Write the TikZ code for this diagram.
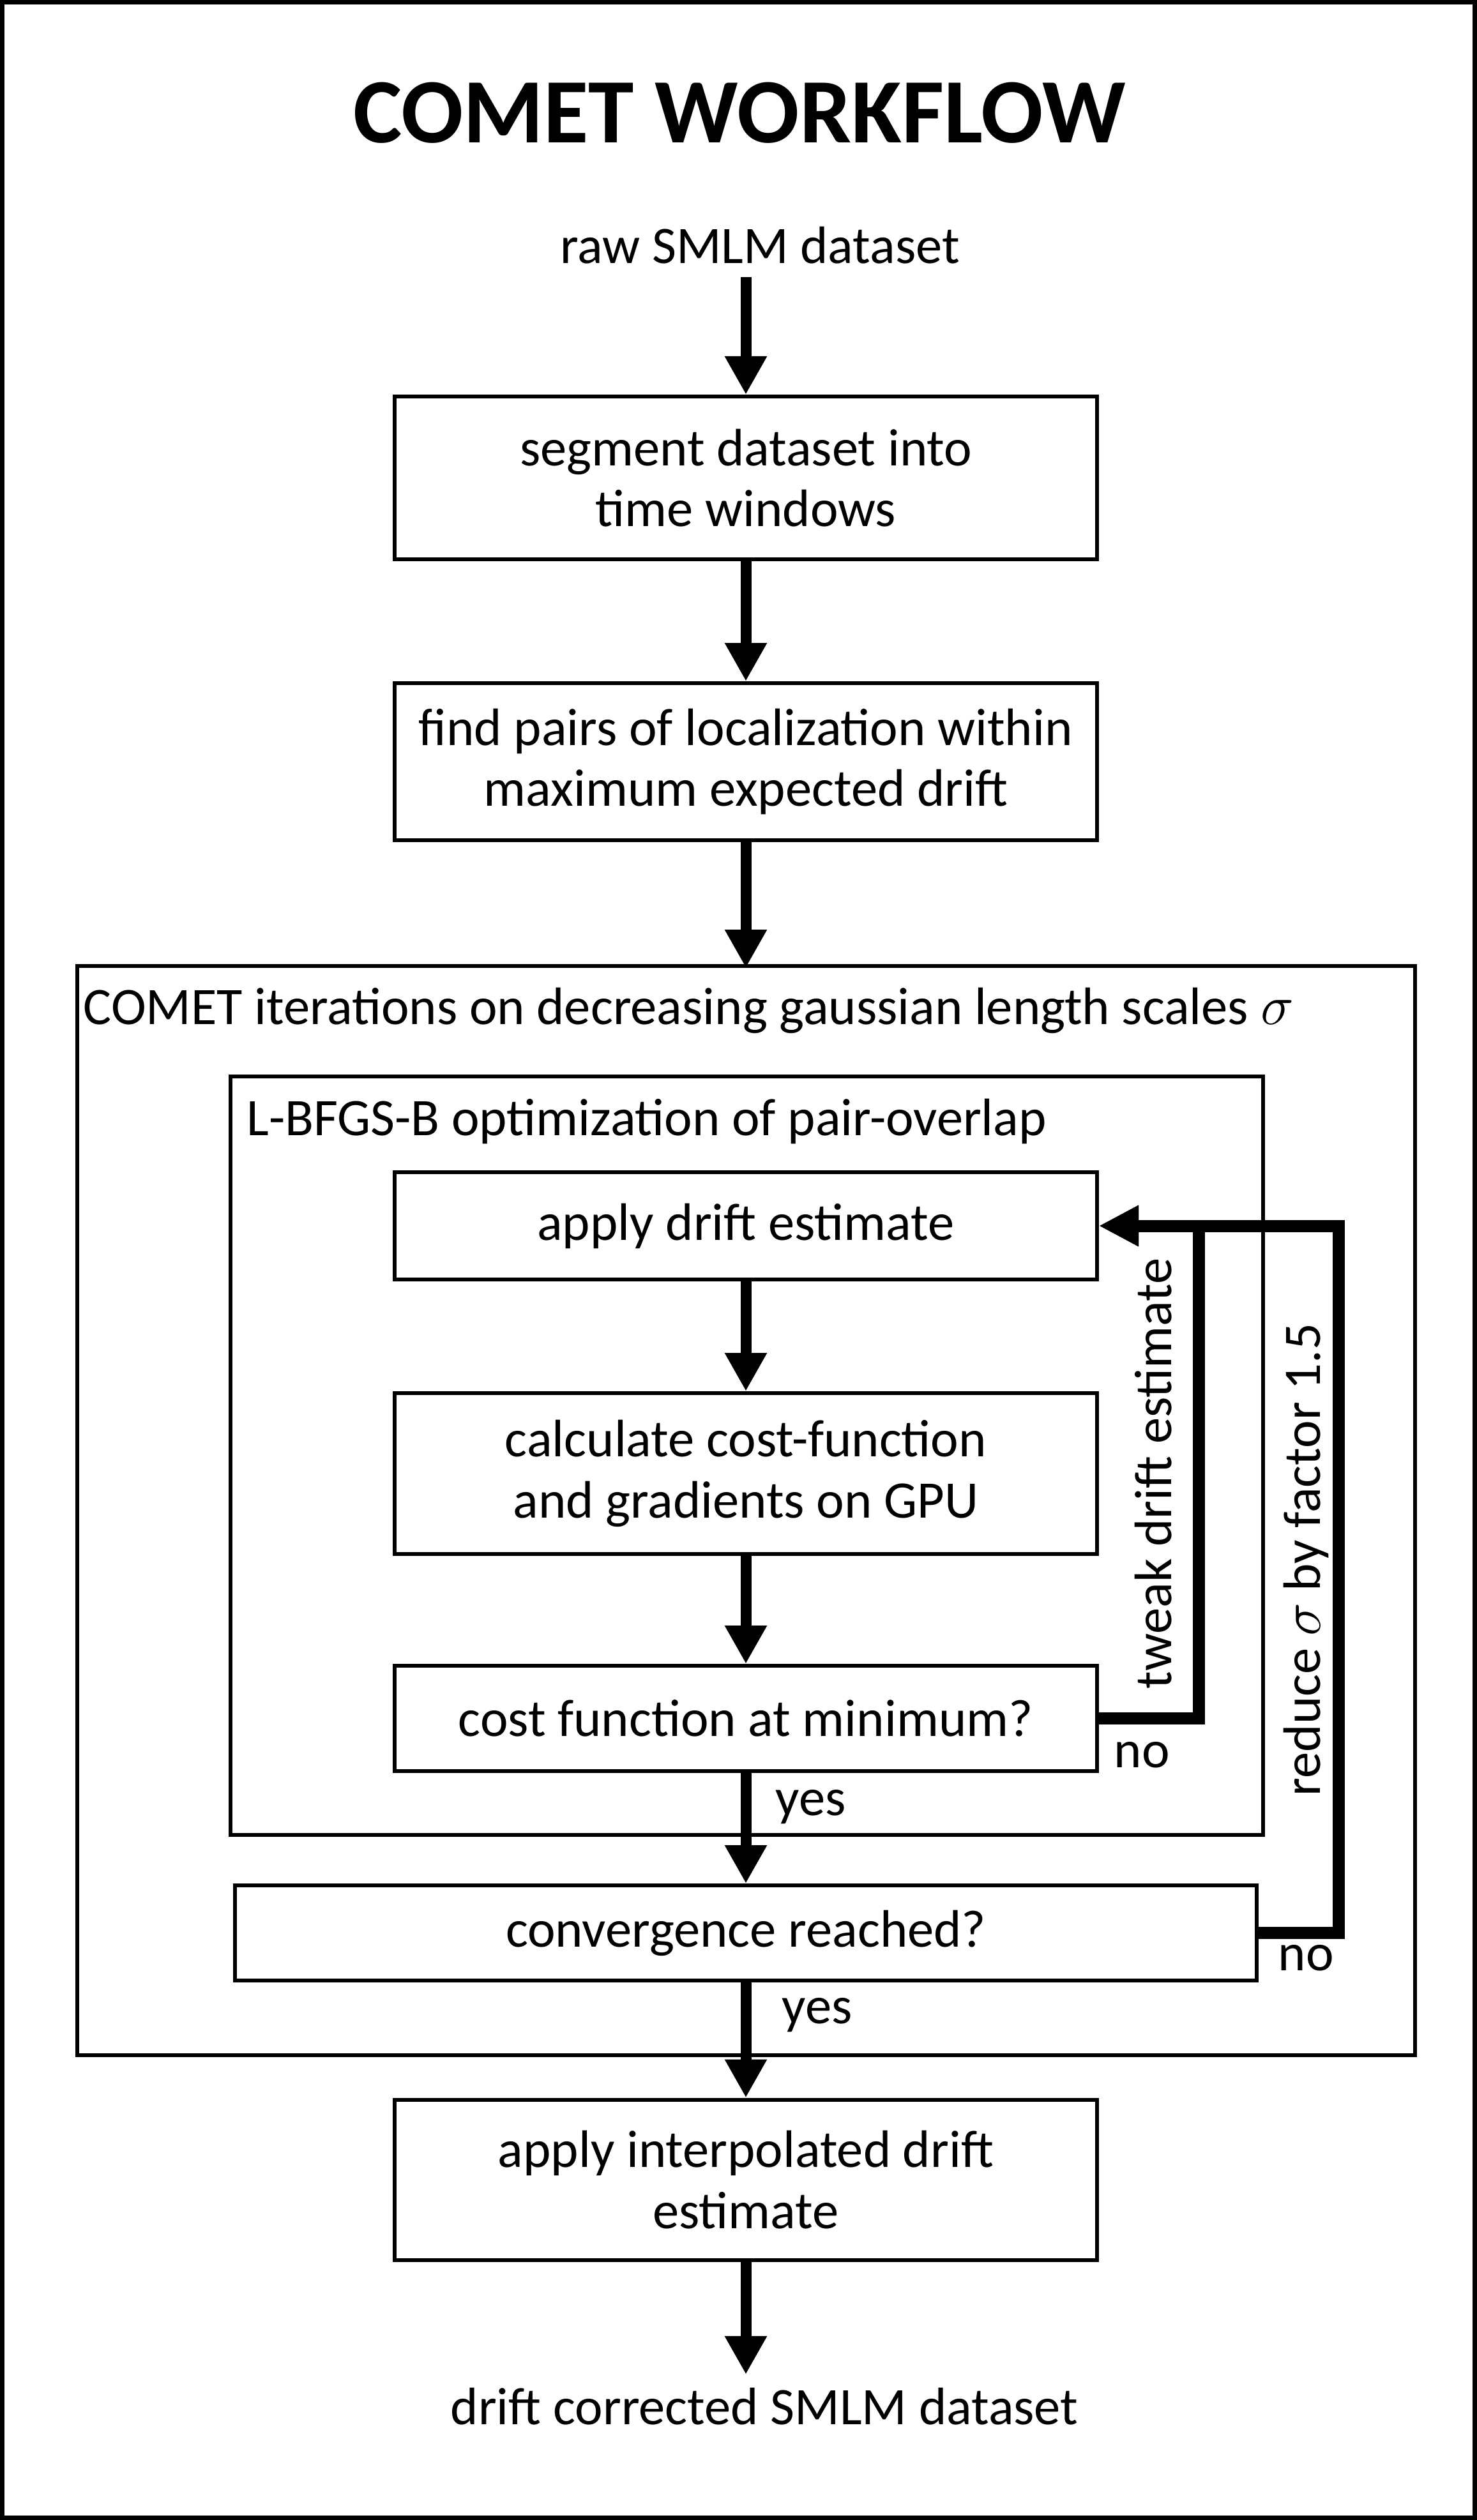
\documentclass[tikz,border=0pt]{standalone}
\usepackage{fontspec}
\setmainfont{Carlito}
\usetikzlibrary{arrows.meta,positioning,calc}
\newcommand{\flowfont}{\fontsize{23.5}{27.2}\selectfont}
\newcommand{\headfont}{\fontsize{41}{49}\selectfont\bfseries}

\begin{document}
\begin{tikzpicture}[
    box/.style={draw, rectangle, line width=0.06cm, minimum width=11cm, align=center, font=\flowfont, inner sep=0pt},
    frame/.style={draw, line width=0.06cm},
    lbl/.style={font=\flowfont, inner sep=0pt},
    endlbl/.style={font=\flowfont, inner sep=0.2cm},
    arrow/.style={-{Triangle[length=0.6cm, width=0.62cm]}, line width=0.17cm},
    loop/.style={-{Triangle[length=0.62cm, width=0.6cm]}, line width=0.19cm}
]
\useasboundingbox (0,0) rectangle (23.13,-39.47);
\draw[line width=0.07cm] (0.035,-0.035) rectangle (23.095,-39.435);

% Title
\node[font=\headfont, inner sep=0pt] (title) at (11.58,-1.77) {COMET WORKFLOW};

% Input and preparation
\node[endlbl, anchor=base] (raw) at (11.90,-4.13) {raw SMLM dataset};
\node[box, minimum height=2.55cm] (segment) at (11.68,-7.485) {segment dataset into\\time windows};
\node[box, minimum height=2.46cm] (pairs) at (11.68,-11.93) {find pairs of localization within\\maximum expected drift};

% COMET iterations
\draw[frame] (1.21,-15.13) rectangle (22.16,-32.19);
\node[lbl, anchor=base west] (cometlbl) at (1.30,-16.04) {COMET iterations on decreasing gaussian length scales $\sigma$};

% L-BFGS-B loop
\draw[frame] (3.61,-16.86) rectangle (19.78,-28.74);
\node[lbl, anchor=base west] (lbfgslbl) at (3.86,-17.78) {L-BFGS-B optimization of pair-overlap};

\node[box, minimum height=1.68cm] (apply) at (11.68,-19.20) {apply drift estimate};
\node[box, minimum height=2.52cm] (cost) at (11.68,-23.08) {calculate cost-function\\and gradients on GPU};
\node[box, minimum height=1.65cm] (minimum) at (11.68,-26.915) {cost function at minimum?};
\node[box, minimum height=1.49cm, minimum width=16cm] (converge) at (11.68,-30.275) {convergence reached?};

% Output
\node[box, minimum height=2.51cm] (interp) at (11.68,-34.14) {apply interpolated drift\\estimate};
\node[endlbl, anchor=base] (result) at (11.97,-37.97) {drift corrected SMLM dataset};

% Arrows
\draw[arrow] (segment.north |- raw.south) -- (segment);
\draw[arrow] (segment) -- (pairs);
\draw[arrow] (pairs) -- (pairs.south |- 0,-15.16);
\draw[arrow] (apply) -- (cost);
\draw[arrow] (cost) -- (minimum);
\draw[arrow] (minimum) -- (converge);
\draw[arrow] (converge) -- (interp);
\draw[arrow] (interp.south) -- (interp.south |- result.north);

% Feedback loops
\coordinate (tweak) at (18.77,-19.20);
\coordinate (reduce) at (20.96,-19.20);
\draw[loop] (minimum.east) -| (tweak) -- (apply.east);
\draw[loop] (converge.east) -| (reduce) -- (apply.east);

\node[lbl, rotate=90] (tweaklbl) at (18.06,-23.08) {tweak drift estimate};
\node[lbl, rotate=90] (reducelbl) at (20.45,-24.43) {reduce $\sigma$ by factor 1.5};

\node[lbl, anchor=base west] (no1) at (17.44,-27.68) {no};
\node[lbl, anchor=base west] (no2) at (20.01,-30.86) {no};
\node[lbl, anchor=base west] (yes1) at (12.14,-28.43) {yes};
\node[lbl, anchor=base west] (yes2) at (12.24,-31.69) {yes};

\end{tikzpicture}
\end{document}
